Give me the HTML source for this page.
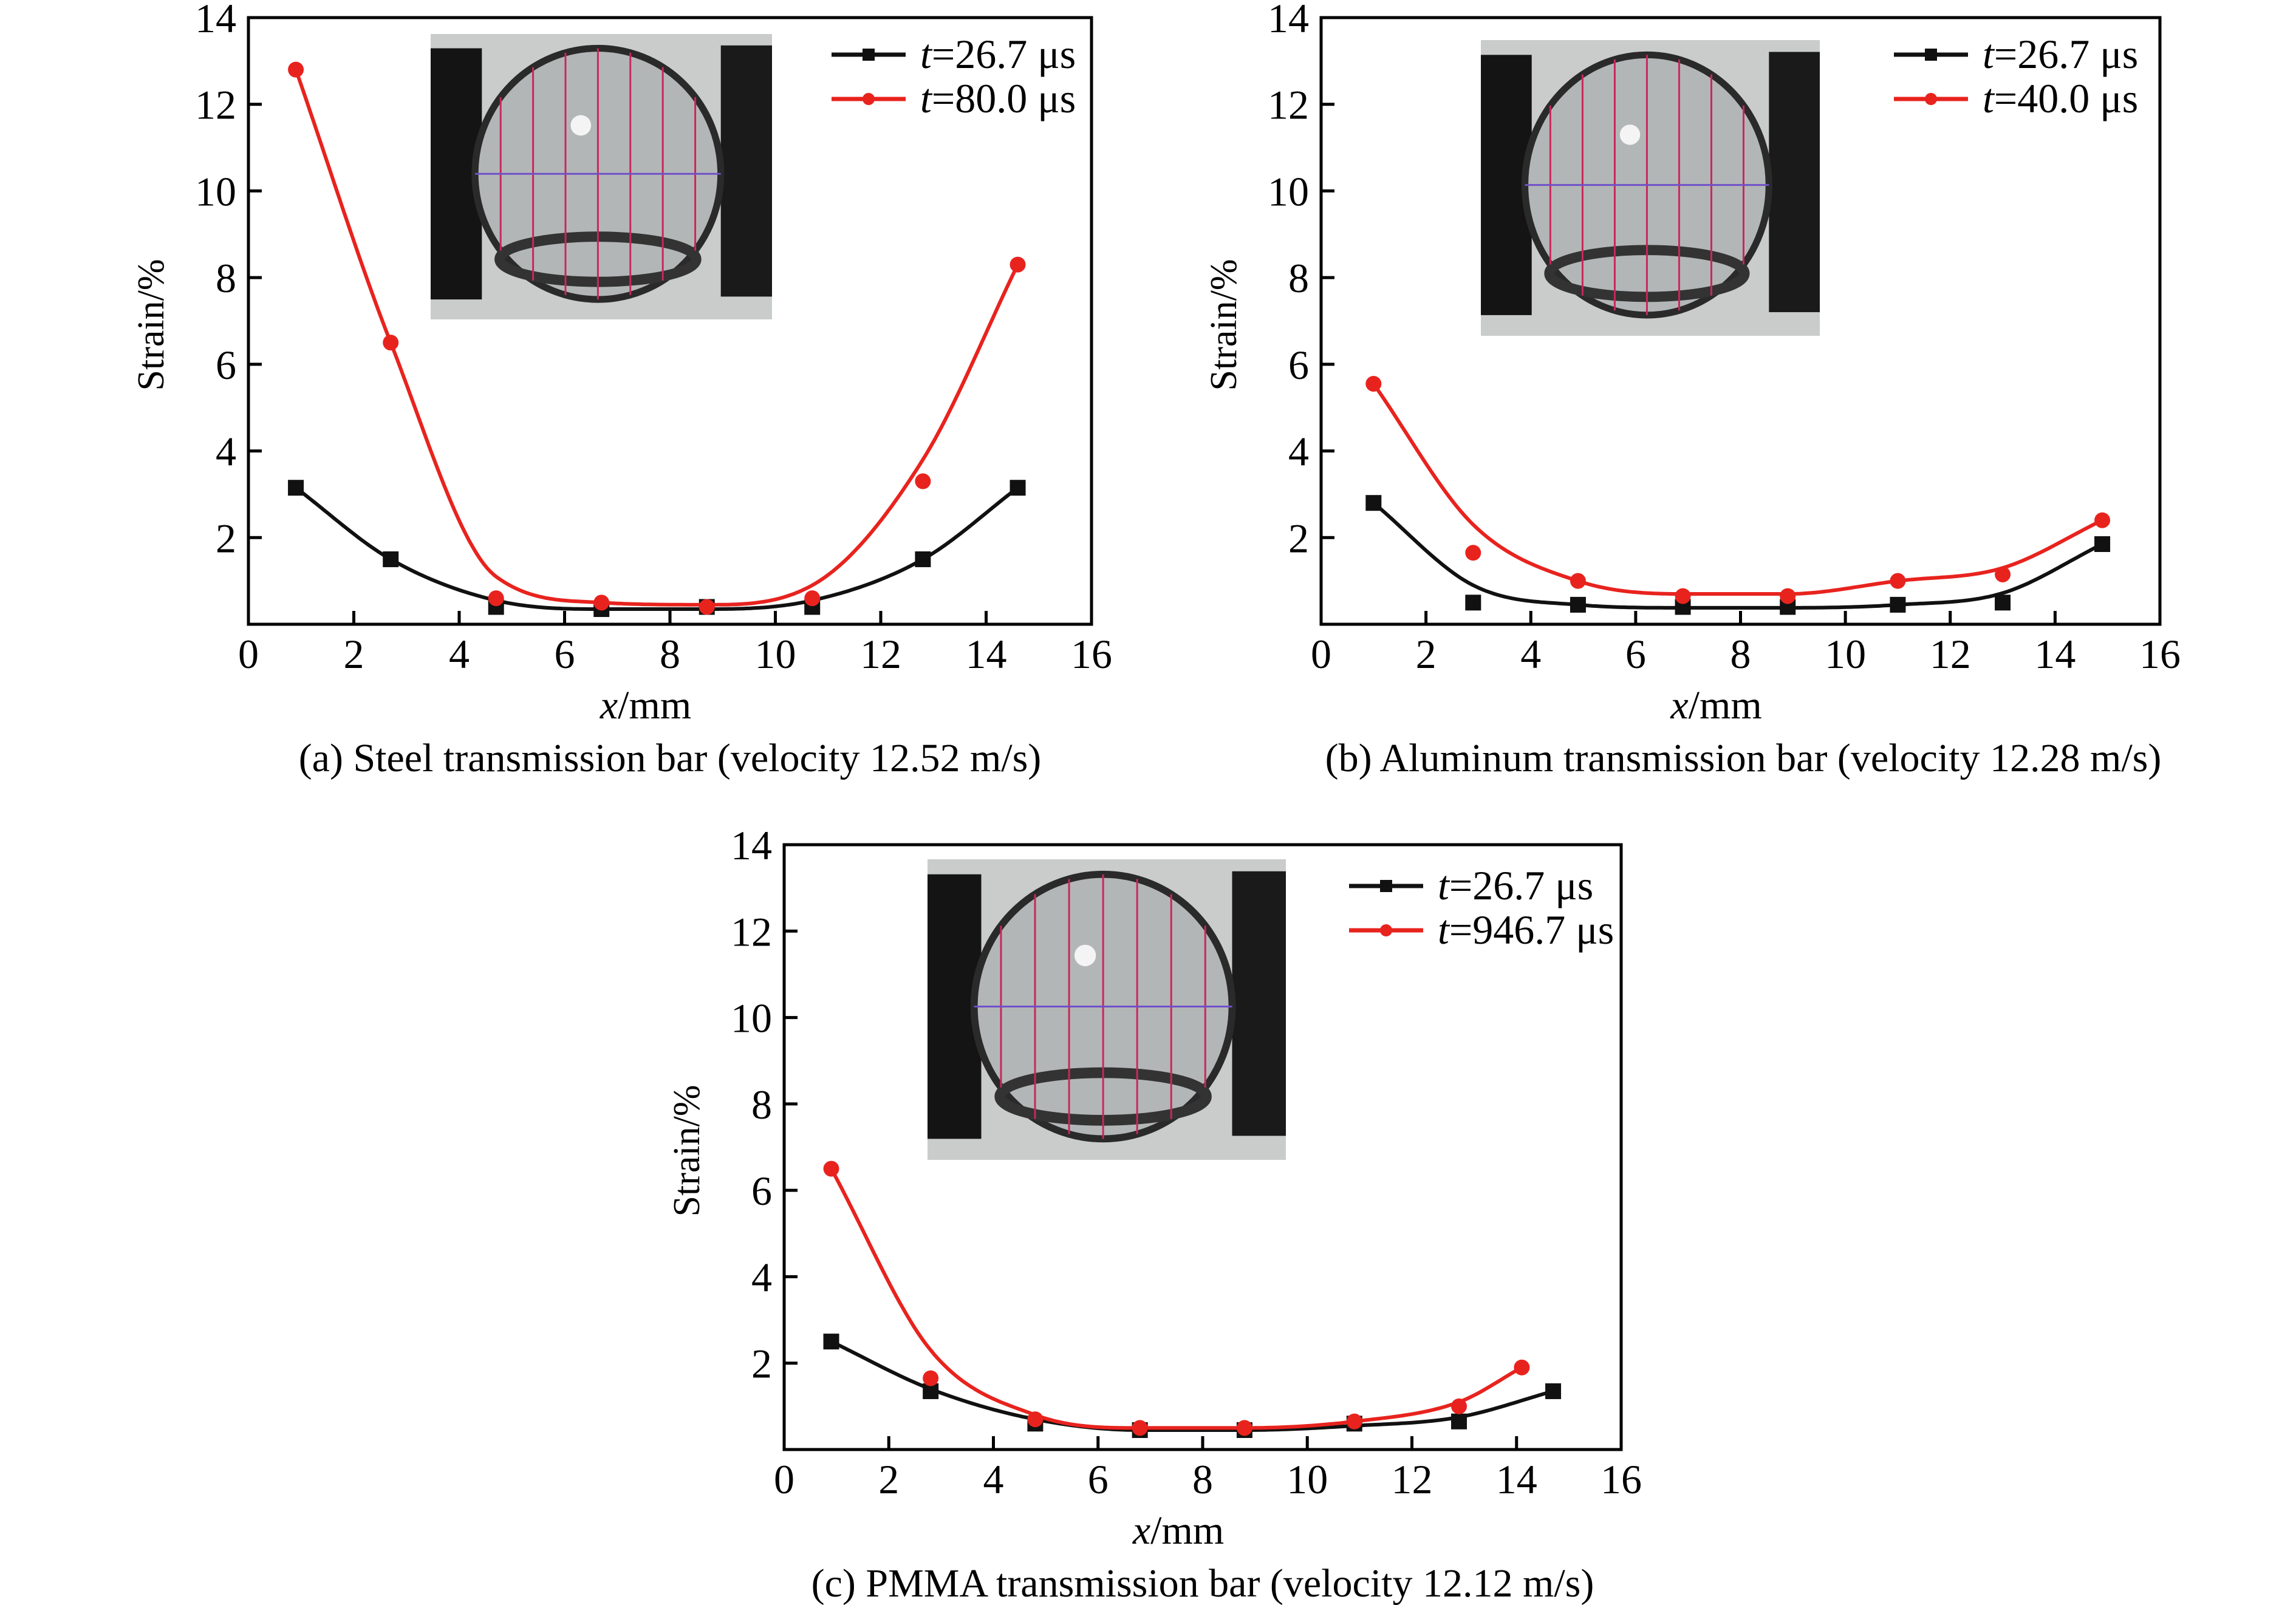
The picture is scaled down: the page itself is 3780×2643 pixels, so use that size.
<!DOCTYPE html>
<html><head><meta charset="utf-8"><style>
html,body{margin:0;padding:0;background:#fff;}
svg{display:block;font-family:"Liberation Serif","Times New Roman",serif;}
</style></head><body>
<svg id="fig" width="3780" height="2643" viewBox="0 0 3780 2643" xmlns="http://www.w3.org/2000/svg"></svg>
<script>
// ---- data ----
const xTicks = [0,2,4,6,8,10,12,14,16];
const yTicks = [2,4,6,8,10,12,14];
const legendA = ["26.7", "80.0"];
const legendB = ["26.7", "40.0"];
const legendC = ["26.7", "946.7"];
const captionA = "(a) Steel transmission bar (velocity 12.52 m/s)";
const captionB = "(b) Aluminum transmission bar (velocity 12.28 m/s)";
const captionC = "(c) PMMA transmission bar (velocity 12.12 m/s)";

const aX = [0.9,2.7,4.7,6.7,8.7,10.7,12.8,14.6];
const aBlack = [3.15,1.5,0.4,0.35,0.4,0.4,1.5,3.15];
const aRed = [12.8,6.5,0.6,0.5,0.4,0.6,3.3,8.3];
const aBlackFit = [3.15,1.5,0.55,0.35,0.35,0.55,1.5,3.15];
const aRedFit = [12.8,6.5,1.1,0.5,0.45,0.9,3.8,8.3];

const bX = [1.0,2.9,4.9,6.9,8.9,11.0,13.0,14.9];
const bBlack = [2.8,0.5,0.45,0.4,0.4,0.45,0.5,1.85];
const bRed = [5.55,1.65,1.0,0.65,0.65,1.0,1.15,2.4];
const bBlackFit = [2.8,0.9,0.45,0.38,0.38,0.45,0.72,1.85];
const bRedFit = [5.55,2.3,1.0,0.7,0.7,1.0,1.3,2.4];

const cXBlack = [0.9,2.8,4.8,6.8,8.8,10.9,12.9,14.7];
const cXRed = [0.9,2.8,4.8,6.8,8.8,10.9,12.9,14.1];
const cBlack = [2.5,1.35,0.6,0.45,0.45,0.6,0.65,1.35];
const cRed = [6.5,1.65,0.7,0.5,0.5,0.65,1.0,1.9];
const cBlackFit = [2.5,1.4,0.7,0.45,0.45,0.55,0.75,1.35];
const cRedFit = [6.5,2.3,0.8,0.5,0.5,0.65,1.1,1.9];

const NS = "http://www.w3.org/2000/svg";
const svg = document.getElementById('fig');
function mk(tag, attrs, parent){
  const e = document.createElementNS(NS, tag);
  for (const k in attrs) e.setAttribute(k, attrs[k]);
  (parent||svg).appendChild(e);
  return e;
}
function mono(xs, ys){
  const n = xs.length, d=[], m=[];
  for(let i=0;i<n-1;i++) d.push((ys[i+1]-ys[i])/(xs[i+1]-xs[i]));
  m[0]=d[0]; m[n-1]=d[n-2];
  for(let i=1;i<n-1;i++){ m[i] = (d[i-1]*d[i]<=0)?0:(d[i-1]+d[i])/2; }
  for(let i=0;i<n-1;i++){
    if(d[i]===0){m[i]=0;m[i+1]=0;continue;}
    const a=m[i]/d[i], b=m[i+1]/d[i], s=a*a+b*b;
    if(s>9){const t=3/Math.sqrt(s); m[i]=t*a*d[i]; m[i+1]=t*b*d[i];}
  }
  return {xs,ys,m};
}
function evalMono(f, x){
  const {xs,ys,m}=f; let i=0;
  while(i<xs.length-2 && x>xs[i+1]) i++;
  const h=xs[i+1]-xs[i], t=(x-xs[i])/h, t2=t*t, t3=t2*t;
  return (2*t3-3*t2+1)*ys[i]+(t3-2*t2+t)*h*m[i]+(-2*t3+3*t2)*ys[i+1]+(t3-t2)*h*m[i+1];
}
function photo(g, x, y, w, h, name){
  const p = mk('g',{},g);
  
  
  mk('rect',{x:x,y:y,width:w,height:h,fill:'#c9cccb'},p);
  mk('rect',{x:x,y:y+0.05*h,width:w*0.15,height:h*0.88,fill:'#141414'},p);
  mk('rect',{x:x+w*0.85,y:y+0.04*h,width:w*0.15,height:h*0.88,fill:'#1a1a1a'},p);
  const cx=x+w*0.49, cy=y+h*0.49, rx=w*0.36, ry=h*0.44;
  mk('ellipse',{cx:cx,cy:cy,rx:rx,ry:ry,fill:'#b3b6b7',stroke:'#2a2a2a','stroke-width':w*0.02},p);
  mk('ellipse',{cx:cx,cy:cy+ry*0.68,rx:rx*0.8,ry:ry*0.18,fill:'none',stroke:'#333','stroke-width':w*0.03},p);
  mk('circle',{cx:cx-w*0.05,cy:cy-h*0.17,r:w*0.03,fill:'#f4f4f4'},p);
  for(let k=-3;k<=3;k++){
    const lx = cx + k*w*0.095;
    const dy = ry*Math.sqrt(Math.max(0,1-Math.pow((lx-cx)/rx,2)));
    mk('line',{x1:lx,y1:cy-dy,x2:lx,y2:cy+dy,stroke:'#c8285a','stroke-width':3},p);
  }
  mk('line',{x1:cx-rx,y1:cy,x2:cx+rx,y2:cy,stroke:'#7050c8','stroke-width':3},p);
}
function panel(cfg){
  const g = mk('g',{});
  
  
  const L=cfg.L,R=cfg.R,T=cfg.T,B=cfg.B;
  const sx = v => L + (v/16)*(R-L);
  const sy = v => B - (v/14)*(B-T);
  photo(g, cfg.ph[0], cfg.ph[1], cfg.ph[2], cfg.ph[3], 'inset-photo');
  const box = mk('rect',{x:L,y:T,width:R-L,height:B-T,fill:'none',stroke:'#000','stroke-width':5},g);
  
  
  xTicks.forEach(v=>{
    if(v>0 && v<16) mk('line',{x1:sx(v),y1:B,x2:sx(v),y2:B-22,stroke:'#000','stroke-width':5},g);
    const t = mk('text',{x:sx(v),y:B+72,'font-size':68,'text-anchor':'middle'},g);
    t.textContent = v;
    
    
  });
  yTicks.forEach(v=>{
    if(v<14) mk('line',{x1:L,y1:sy(v),x2:L+22,y2:sy(v),stroke:'#000','stroke-width':5},g);
    const t = mk('text',{x:L-20,y:sy(v)+24,'font-size':68,'text-anchor':'end'},g);
    t.textContent = v;
    
    
  });
  const xt = mk('text',{x:(L+R)/2-40,y:B+155,'font-size':66,'text-anchor':'middle'},g);
  xt.innerHTML = '<tspan font-style="italic">x</tspan>/mm';
  
  
  const ycx = L-140, ycy = cfg.ytY;
  const yt = mk('text',{x:ycx,y:ycy,'font-size':62,'text-anchor':'middle',transform:`rotate(-90 ${ycx} ${ycy})`},g);
  yt.textContent = 'Strain/%';
  
  
  const cap = mk('text',{x:cfg.capX,y:B+242,'font-size':66,'text-anchor':'middle'},g);
  cap.textContent = cfg.caption;
  
  
  cfg.series.forEach((s,si)=>{
    const f = mono(s.x, s.fit);
    let d='';
    const x0=s.x[0], x1=s.x[s.x.length-1];
    for(let i=0;i<=200;i++){
      const xv = x0+(x1-x0)*i/200;
      d += (i?'L':'M')+sx(xv).toFixed(1)+','+sy(evalMono(f,xv)).toFixed(1);
    }
    const path = mk('path',{d:d,fill:'none',stroke:s.color,'stroke-width':6},g);
    
    
    s.y.forEach((v,i)=>{
      let m;
      if(s.marker==='sq') m = mk('rect',{x:sx(s.x[i])-13,y:sy(v)-13,width:26,height:26,fill:s.color},g);
      else m = mk('circle',{cx:sx(s.x[i]),cy:sy(v),r:13,fill:s.color},g);
      
      
    });
    const ly = cfg.leg[1] + si*73;
    const lg = mk('g',{},g);
    
    
    mk('line',{x1:cfg.leg[0],y1:ly,x2:cfg.leg[0]+122,y2:ly,stroke:s.color,'stroke-width':7},lg);
    if(s.marker==='sq') mk('rect',{x:cfg.leg[0]+61-10,y:ly-10,width:20,height:20,fill:s.color},lg);
    else mk('circle',{cx:cfg.leg[0]+61,cy:ly,r:10,fill:s.color},lg);
    const lt = mk('text',{x:cfg.leg[0]+146,y:ly+22,'font-size':68},lg);
    lt.innerHTML = '<tspan font-style="italic">t</tspan>='+cfg.legend[si]+' μs';
  });
}
panel({name:'panel-a-steel',L:409,R:1797,T:29,B:1028,ph:[709,56,562,470],ytY:535,capX:1103,leg:[1369,90],legend:legendA,caption:captionA,
  series:[{name:'black-t26-7',color:'#111',marker:'sq',x:aX,y:aBlack,fit:aBlackFit},{name:'red-t80',color:'#e8231e',marker:'ci',x:aX,y:aRed,fit:aRedFit}]});
panel({name:'panel-b-aluminum',L:2175,R:3556,T:29,B:1028,ph:[2438,66,558,487],ytY:535,capX:2870,leg:[3118,90],legend:legendB,caption:captionB,
  series:[{name:'black-t26-7',color:'#111',marker:'sq',x:bX,y:bBlack,fit:bBlackFit},{name:'red-t40',color:'#e8231e',marker:'ci',x:bX,y:bRed,fit:bRedFit}]});
panel({name:'panel-c-pmma',L:1291,R:2669,T:1391,B:2387,ph:[1527,1415,590,495],ytY:1895,capX:1980,leg:[2221,1459],legend:legendC,caption:captionC,
  series:[{name:'black-t26-7',color:'#111',marker:'sq',x:cXBlack,y:cBlack,fit:cBlackFit},{name:'red-t946-7',color:'#e8231e',marker:'ci',x:cXRed,y:cRed,fit:cRedFit}]});
</script>
</body></html>
